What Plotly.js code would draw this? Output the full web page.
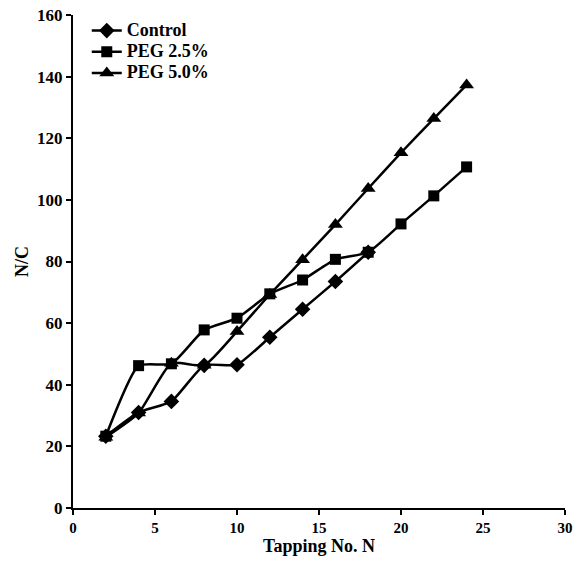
<!DOCTYPE html>
<html>
<head>
<meta charset="utf-8">
<script src="https://cdn.plot.ly/plotly-3.0.1.min.js"></script>
<style>html,body{margin:0;padding:0;background:#fff;}#chart{width:584px;height:578px;}</style>
</head>
<body>
<div id="chart"></div>
<script>
const xControl = [2, 4, 6, 8, 10, 12, 14, 16, 18];
const yControl = [23.3, 31.0, 34.6, 46.3, 46.5, 55.4, 64.5, 73.5, 83.0];
const xPeg25 = [2, 4, 6, 8, 10, 12, 14, 16, 18, 20, 22, 24];
const yPeg25 = [23.3, 46.2, 46.8, 57.8, 61.6, 69.5, 74.0, 80.7, 83.0, 92.2, 101.3, 110.7];
const xPeg50 = [2, 4, 6, 8, 10, 12, 14, 16, 18, 20, 22, 24];
const yPeg50 = [23.0, 30.8, 47.0, 46.3, 57.3, 69.3, 80.6, 92.0, 103.7, 115.3, 126.4, 137.3];
const names = ["Control", "PEG 2.5%", "PEG 5.0%"];
const xTicks = [0, 5, 10, 15, 20, 25, 30];
const yTicks = [0, 20, 40, 60, 80, 100, 120, 140, 160];

const font = "Liberation Serif, Times New Roman, serif";
const lineStyle = {color: "#000", width: 2.5, shape: "spline", smoothing: 0.5};
const legendName = n => "<span style='font-size:18px'><b>" + n + "</b></span>";
const traces = [
  {x: xControl, y: yControl, name: legendName(names[0]), mode: "lines+markers", line: lineStyle,
   marker: {symbol: "diamond", size: 12, color: "#000"}},
  {x: xPeg25, y: yPeg25, name: legendName(names[1]), mode: "lines+markers", line: lineStyle,
   marker: {symbol: "square", size: 11, color: "#000"}},
  {x: xPeg50, y: yPeg50, name: legendName(names[2]), mode: "lines+markers", line: lineStyle,
   marker: {symbol: "triangle-up", size: 13, color: "#000"}}
];
const layout = {
  width: 584, height: 578,
  margin: {l: 73, r: 19, t: 15, b: 70},
  paper_bgcolor: "#fff", plot_bgcolor: "#fff",
  font: {family: font, color: "#000", size: 18},
  showlegend: true,
  legend: {x: 0.028, y: 1.0, xanchor: "left", yanchor: "top", bgcolor: "rgba(0,0,0,0)",
           font: {family: font, size: 14, color: "#000"}, tracegroupgap: 0},
  xaxis: {range: [0, 30], tickvals: xTicks, ticktext: xTicks.map(v => "<b>" + v + "</b>"), ticks: "outside", ticklen: 5, tickwidth: 2,
          tickcolor: "#000", showline: true, linecolor: "#000", linewidth: 2, showgrid: false, zeroline: false,
          tickfont: {family: font, size: 15, color: "#000"},
          title: {text: "<b>Tapping No. N</b>", font: {family: font, size: 18, color: "#000"}, standoff: 0},
          automargin: false},
  yaxis: {range: [0, 160], tickvals: yTicks, ticktext: yTicks.map(v => "<b>" + v + "</b>"), ticks: "outside", ticklen: 5, tickwidth: 2,
          tickcolor: "#000", showline: true, linecolor: "#000", linewidth: 2, showgrid: false, zeroline: false,
          tickfont: {family: font, size: 17, color: "#000"},
          title: {text: "<b>N/C</b>", font: {family: font, size: 18, color: "#000"}, standoff: 4},
          automargin: false}
};
Plotly.newPlot("chart", traces, layout, {displayModeBar: false, staticPlot: true});
</script>
</body>
</html>
